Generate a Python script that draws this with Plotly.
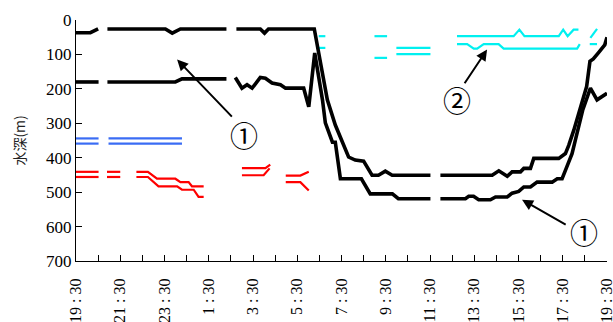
import plotly.graph_objects as go

# time axis: hours elapsed since 19:30
tick_hours = [0, 2, 4, 6, 8, 10, 12, 14, 16, 18, 20, 22, 24]
tick_text = ["19 : 30", "21 : 30", "23 : 30", "1 : 30", "3 : 30", "5 : 30", "7 : 30",
             "9 : 30", "11 : 30", "13 : 30", "15 : 30", "17 : 30", "19 : 30"]
depth_ticks = [0, 100, 200, 300, 400, 500, 600, 700]

# black line: upper boundary of layer ①
upper_t = [0, 0.65, 1.0, None,
           1.42, 4.04, 4.35, 4.72, 6.8, None,
           7.25, 8.33, 8.52, 8.7, 10.77, 11.36, 11.72, 12.32, 12.62, 13.0, 13.38, 13.67, 13.98, 14.29, 16.02, None,
           16.47, 18.81, 19.11, 19.49, 19.71, 20.09, 20.24, 20.54, 20.69, 21.82, 22.12, 22.27, 22.5, 23.08, 23.23, 23.38, 23.6, 23.9, 24.0]
upper_d = [37, 37, 26, None,
           26, 26, 38, 26, 26, None,
           26, 26, 38, 26, 26, 232, 305, 398, 407, 410, 451, 451, 439, 451, 451, None,
           451, 451, 438, 454, 441, 441, 431, 431, 402, 402, 388, 364, 320, 193, 120, 113, 96, 72, 50]

# black line: lower boundary of layer ①
lower_t = [0, 1.02, None,
           1.42, 4.49, 4.79, 6.8, None,
           7.2, 7.5, 7.73, 7.96, 8.33, 8.56, 8.86, 9.24, 9.47, 10.29, 10.52, 10.79, 11.14, 11.27, 11.59, 11.72, 11.95, 12.9, 13.3, 14.3, 14.57, 16.02, None,
           16.47, 17.6, 17.75, 17.97, 18.2, 18.73, 18.96, 19.49, 19.71, 20.01, 20.24, 20.54, 20.84, 21.52, 21.75, 21.97, 22.12, 22.42, 22.57, 22.8, 22.9, 23.25, 23.55, 24.0]
lower_d = [180, 180, None,
           180, 180, 171, 171, None,
           167, 198, 188, 198, 167, 169, 183, 188, 198, 198, 252, 96, 232, 299, 355, 355, 461, 461, 505, 505, 519, 519, None,
           519, 519, 512, 512, 522, 522, 514, 514, 503, 498, 485, 485, 471, 471, 461, 461, 437, 388, 349, 291, 262, 198, 232, 213]

# cyan lines: layer ②
cyan_a_t = [10.97, 11.27, None, 13.49, 14.06, None, 14.48, 16.02, None,
            17.22, 19.78, 20.04, 20.27, 21.82, 22.02, 22.22, 22.49, 22.71, None, 23.25, 23.55]
cyan_a_d = [47, 47, None, 47, 47, None, 81, 81, None,
            47, 47, 28, 47, 47, 28, 47, 28, 28, None, 52, 26]
cyan_b_t = [10.97, 11.27, None, 13.49, 14.06, None, 14.48, 16.02, None,
            17.22, 17.68, 17.98, 18.13, 18.43, 19.1, 19.33, 22.65, 22.77, None, 23.22, 23.55]
cyan_b_d = [81, 81, None, 110, 110, None, 99, 99, None,
            70, 70, 83, 83, 70, 70, 83, 83, 70, None, 70, 70]

# blue lines
blue_t = [0, 1.02, None, 1.47, 4.79]
blue_a_d = [344, 344, None, 344, 344]
blue_b_d = [359, 359, None, 359, 359]

# red lines
red_a_t = [0, 1.02, None, 1.4, 2.0, None, 2.73, 3.25, 3.66, 4.49, 4.72, 5.09, 5.24, 5.77, None,
           7.5, 8.56, 8.78, None, 9.48, 10.14, 10.52]
red_a_d = [441, 441, None, 441, 441, None, 441, 441, 461, 461, 471, 471, 483, 483, None,
           430, 430, 420, None, 452, 452, 441]
red_b_t = [0, 1.02, None, 1.4, 2.0, None, 2.73, 3.25, 3.73, 4.57, 4.79, 5.32, 5.54, 5.77, None,
           7.5, 8.48, 8.75, None, 9.48, 10.14, 10.52]
red_b_d = [456, 456, None, 456, 456, None, 456, 456, 483, 483, 493, 493, 514, 514, None,
           451, 451, 431, None, 471, 471, 495]

fig = go.Figure()


def add_line(t, d, color, width):
    fig.add_trace(go.Scatter(x=t, y=d, mode="lines", line=dict(color=color, width=width),
                             connectgaps=False, showlegend=False, hoverinfo="skip"))


add_line(blue_t, blue_a_d, "#3a6cf4", 2.2)
add_line(blue_t, blue_b_d, "#3a6cf4", 2.2)
add_line(red_a_t, red_a_d, "#ff0000", 2.2)
add_line(red_b_t, red_b_d, "#ff0000", 2.2)
add_line(cyan_a_t, cyan_a_d, "#00f0f0", 2.2)
add_line(cyan_b_t, cyan_b_d, "#00f0f0", 2.2)
add_line(upper_t, upper_d, "#000000", 3.6)
add_line(lower_t, lower_d, "#000000", 3.6)

serif = "Liberation Serif"

# arrows (head -> tail in data coords) and circled labels
arrows = [
    (4.57, 115, 7.11, 285),
    (18.58, 86, 17.52, 188),
    (20.16, 522, 22.2, 597),
]
labels = [(7.61, 334, "①"), (17.22, 232, "②"), (22.95, 617, "①")]

for hx, hy, tx, ty in arrows:
    fig.add_annotation(x=hx, y=hy, ax=tx, ay=ty, xref="x", yref="y", axref="x", ayref="y",
                       text="", showarrow=True, arrowhead=2, arrowsize=1.1, arrowwidth=2,
                       arrowcolor="#000000")
for lx, ly, s in labels:
    fig.add_annotation(x=lx, y=ly, xref="x", yref="y", text=s, showarrow=False,
                       font=dict(family="Noto Sans CJK JP", size=28, color="#000000"))

fig.add_annotation(x=-0.109, y=0.5, xref="paper", yref="paper", text="水深(m)",
                   textangle=-90, showarrow=False, xanchor="center", yanchor="middle",
                   font=dict(family="Noto Sans CJK JP", size=14, color="#222222"))

fig.update_layout(
    width=613, height=322,
    margin=dict(l=76, r=6, t=20, b=61, autoexpand=False),
    paper_bgcolor="white", plot_bgcolor="white",
    font=dict(family=serif, size=17, color="#000000"),
)
fig.update_xaxes(range=[0, 24], tickvals=tick_hours, ticktext=tick_text, tickangle=-90,
                 ticks="inside", ticklen=6, tickcolor="#000", tickwidth=1,
                 minor=dict(dtick=1, tick0=0, ticks="inside", ticklen=6, tickcolor="#000"),
                 showline=True, linecolor="#000", linewidth=1.2, showgrid=False, zeroline=False,
                 automargin=False, ticklabelstandoff=10, ticklabeloverflow="allow",
                 tickfont=dict(family=serif, size=16, color="#000"))
fig.update_yaxes(range=[700, 0], tickvals=depth_ticks, ticks="inside", ticklen=6,
                 tickcolor="#000", showline=True, linecolor="#000", linewidth=1.2,
                 showgrid=False, zeroline=False, automargin=False,
                 tickfont=dict(family=serif, size=17, color="#000"))

fig.write_html("out.html", config={"displayModeBar": False},
               post_script="document.body.style.margin='0px';")
